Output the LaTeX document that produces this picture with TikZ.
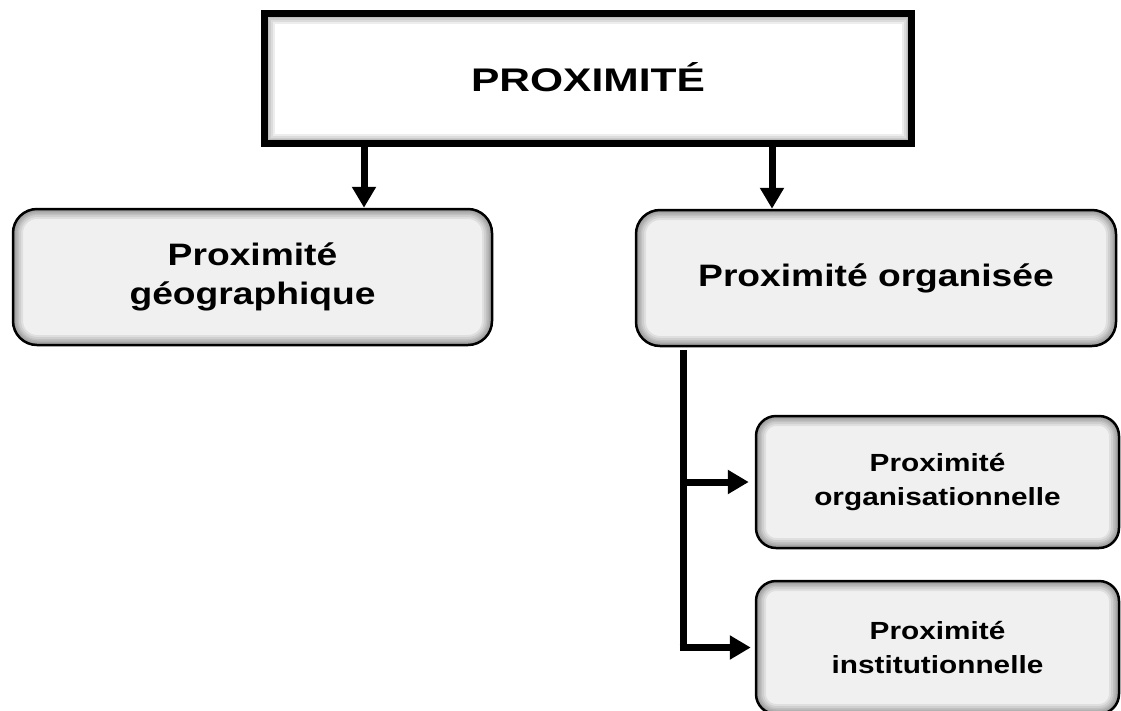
\documentclass[tikz,border=0pt]{standalone}
\usepackage{fontspec}
\usetikzlibrary{arrows.meta}
\newfontfamily\boxfont[FakeStretch=1.2]{Liberation Sans}
\newfontfamily\titlefont[FakeStretch=1.3]{Liberation Sans}
\tikzset{
  shadowin/.style={path picture={
    \foreach \w in {20,16,12,9,6,3}
      \draw[line width=\w pt, black, opacity=0.07, rounded corners=#1]
        (path picture bounding box.north west) rectangle (path picture bounding box.south east);}},
  titlebox/.style={draw=black, line width=7pt, fill=white, rectangle, inner sep=0pt,
    minimum width=647pt, minimum height=130pt, shadowin=0pt,
    font=\titlefont\bfseries\fontsize{32.7}{38}\selectfont},
  bigbox/.style={draw=black, line width=2.5pt, fill=black!6, rectangle, rounded corners=24pt,
    inner sep=0pt, minimum width=479pt, minimum height=136pt, align=center, shadowin=24pt,
    font=\boxfont\bfseries\fontsize{31}{39}\selectfont},
  smallbox/.style={draw=black, line width=2.5pt, fill=black!6, rectangle, rounded corners=20pt,
    inner sep=0pt, minimum width=363pt, minimum height=132pt, align=center, shadowin=20pt,
    font=\boxfont\bfseries\fontsize{24.8}{34.5}\selectfont},
  conn/.style={line width=7pt, black, line join=miter},
  arr/.style={conn, -{Triangle[length=21pt,width=23pt]}}
}
\begin{document}
\begin{tikzpicture}[x=1pt,y=1pt]
\useasboundingbox (0,0) rectangle (1121,-710);
\fill[white] (0,0) rectangle (1121,-710);
\clip (0,0) rectangle (1121,-710);
\node[titlebox] (top) at (588,-78.5) {\raisebox{3pt}{PROXIMITÉ}};
\node[bigbox] (geo) at (252.5,-277) {Proximité\\géographique};
\node[bigbox, minimum width=480pt] (org) at (876,-278) {Proximité organisée};
\node[smallbox] (orgl) at (937.5,-482) {Proximité\\organisationnelle};
\node[smallbox, minimum height=133pt] (inst) at (937.5,-647.5) {Proximité\\institutionnelle};
\coordinate (a1) at (364,0);
\coordinate (a2) at (772,0);
\coordinate (b) at (683,0);
\draw[arr] (a1 |- top.south) -- (a1 |- geo.north);
\draw[arr] (a2 |- top.south) -- (a2 |- org.north);
\draw[conn] ([yshift=-3pt]b |- org.south) -- (b |- inst.west);
\draw[arr, shorten >=4pt] ([xshift=-3.5pt]b |- inst.west) -- (inst.west);
\draw[arr, shorten >=6pt] (b |- orgl.west) -- (orgl.west);
\end{tikzpicture}
\end{document}
